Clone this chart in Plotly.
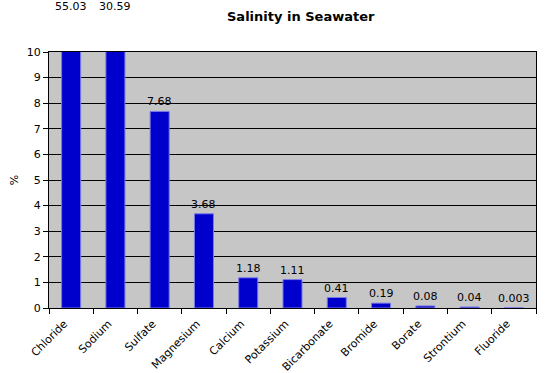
import plotly.graph_objects as go

categories = ["Chloride", "Sodium", "Sulfate", "Magnesium", "Calcium", "Potassium",
              "Bicarbonate", "Bromide", "Borate", "Strontium", "Fluoride"]
values = [55.03, 30.59, 7.68, 3.68, 1.18, 1.11, 0.41, 0.19, 0.08, 0.04, 0.003]
labels = ["55.03", "30.59", "7.68", "3.68", "1.18", "1.11", "0.41", "0.19", "0.08", "0.04", "0.003"]
y_max = 10

fig = go.Figure()
fig.add_trace(go.Bar(
    x=categories, y=values,
    marker=dict(color="#0000cc", line=dict(color="#7a7ae8", width=1)),
    width=0.43,
))

annotations = []
for c, v, t in zip(categories, values, labels):
    if v > y_max:
        annotations.append(dict(x=c, y=1.176, xref="x", yref="paper", text=t,
                                showarrow=False, yanchor="middle",
                                font=dict(family="DejaVu Sans", size=11, color="#000")))
    else:
        annotations.append(dict(x=c, y=v, xref="x", yref="y", text=t,
                                showarrow=False, yanchor="bottom", yshift=1,
                                font=dict(family="DejaVu Sans", size=11, color="#000")))
annotations.append(dict(x=0.517, y=1.137, xref="paper", yref="paper",
                        text="<b>Salinity in Seawater</b>", showarrow=False,
                        yanchor="middle",
                        font=dict(family="DejaVu Sans", size=13, color="#000")))
fig.update_layout(annotations=annotations)

fig.update_layout(
    width=549, height=373,
    margin=dict(l=49, r=13, t=52, b=65, autoexpand=False),
    paper_bgcolor="white", plot_bgcolor="#c6c6c6",
    showlegend=False,
    font=dict(family="DejaVu Sans", size=11, color="#000"),
)
fig.update_xaxes(
    tickangle=-45, ticks="outside", tickson="boundaries", ticklen=5,
    tickcolor="black", showline=True, linecolor="black", linewidth=1,
    mirror=True, showgrid=False, tickfont=dict(size=11), automargin=False,
    ticklabelshift=-7, ticklabelstandoff=4,
)
fig.update_yaxes(
    range=[0, y_max], dtick=1, ticks="outside", ticklen=5, tickcolor="black",
    showline=True, linecolor="black", linewidth=1, mirror=True,
    showgrid=True, gridcolor="black", gridwidth=1, zeroline=False,
    title=dict(text="%", standoff=5, font=dict(size=11)),
    tickfont=dict(size=11), automargin=False,
)

fig.write_html("out.html", config={"displayModeBar": False},
               post_script="document.body.style.margin='0';")
